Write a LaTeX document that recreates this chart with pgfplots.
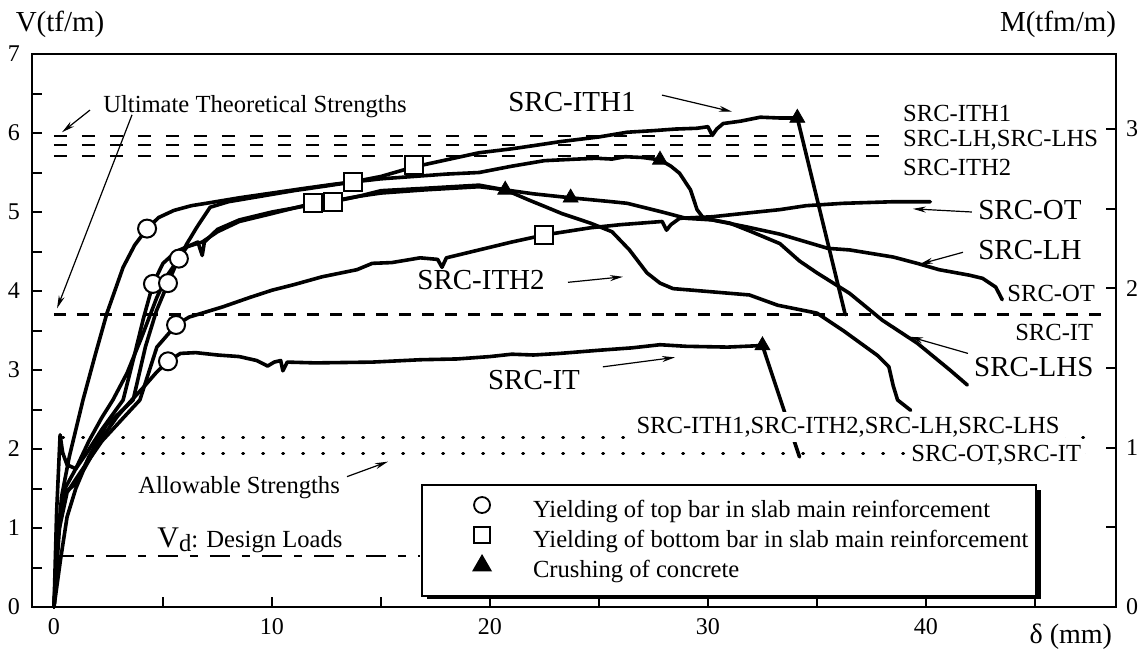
\documentclass[border=0pt]{standalone}
\usepackage{fontspec}
\setmainfont{Liberation Serif}
\usepackage{pgfplots}
\pgfplotsset{compat=1.18}
\usetikzlibrary{arrows.meta}
\newcommand{\fs}{\fontsize{12.3}{14}\selectfont}
\newcommand{\fl}{\fontsize{14.5}{16}\selectfont}
\newcommand{\ftick}{\fontsize{12}{14}\selectfont}
\tikzset{curve/.style={black, line width=1.8pt, line join=round, line cap=round, mark=none},
  arr/.style={black, line width=0.6pt, -{Stealth[length=6.5pt,width=3pt]}}}
\begin{document}
\begin{tikzpicture}
\useasboundingbox (-16pt,-23pt) rectangle (555.5pt,303.5pt);
\begin{axis}[
  at={(0pt,0pt)}, anchor=south west,
  scale only axis, width=542pt, height=276.5pt,
  xmin=-1.009, xmax=48.72, ymin=0, ymax=7,
  clip=false,
  axis line style={line width=1.2pt},
  xtick={0,10,20,30,40}, minor xtick={5,15,25,35,45},
  ytick={0,1,...,7}, minor ytick={0.5,1.5,...,6.5},
  xtick pos=left, ytick pos=left, tick align=inside,
  major tick length=5pt, minor tick length=5pt,
  tick style={black, line width=1pt},
  tick label style={font=\ftick},
  /pgf/number format/assume math mode=true,
  xticklabel style={yshift=-2pt},
  yticklabel style={xshift=-2.5pt},
  legend cell align=left,
  legend style={at={(0.3589,0.2224)}, anchor=north west, draw=black, line width=1pt,
    fill=white, inner xsep=4pt, inner ysep=5pt, font=\fs, row sep=0pt, column sep=2pt,
    nodes={inner sep=0pt, text height=10pt, text depth=4pt}},
]
% reference strength lines
\addplot[forget plot, black, line width=1pt, dash pattern=on 6.5pt off 7.5pt] coordinates {(0,5.96) (38.3,5.96)};
\addplot[forget plot, black, line width=1pt, dash pattern=on 6.5pt off 7.5pt] coordinates {(0,5.85) (38.3,5.85)};
\addplot[forget plot, black, line width=1pt, dash pattern=on 6.5pt off 7.5pt] coordinates {(0,5.71) (38.3,5.71)};
\addplot[forget plot, black, line width=1.7pt, dash pattern=on 6pt off 5.5pt] coordinates {(0,3.70) (48.35,3.70)};
\addplot[forget plot, black, line width=1.5pt, line cap=round, dash pattern=on 0.4pt off 9.6pt] coordinates {(0.4,2.14) (48.1,2.14)};
\addplot[forget plot, black, line width=1.5pt, line cap=round, dash pattern=on 0.4pt off 9.6pt] coordinates {(0.4,1.94) (48.1,1.94)};
\addplot[forget plot, black, line width=0.9pt, dash pattern=on 10pt off 6pt on 4pt off 6pt] coordinates {(0,0.65) (16.8,0.65)};

% SRC-ITH1
\addplot[forget plot, curve] coordinates {(0,0) (0.15,0.8) (0.35,1.4) (0.7,1.9) (1.33,2.62) (1.9,3.2) (2.43,3.72) (3.17,4.3) (3.7,4.58) (4.27,4.79) (4.8,4.93) (5.5,5.02) (6.3,5.08) (7.2,5.12) (8.5,5.18) (10,5.24) (11.5,5.3) (12.8,5.35) (13.7,5.38) (15,5.45) (16.5,5.57) (18,5.66) (19.5,5.75) (21,5.8) (22,5.84) (23.2,5.89) (24.1,5.92) (25,5.95) (26.3,6.01) (27.5,6.03) (28.5,6.05) (29.5,6.06) (30.0,6.08) (30.2,5.97) (30.4,6.05) (30.7,6.12) (31.5,6.15) (32.4,6.2) (33.3,6.19) (34.1,6.19) (36.3,3.70)};
% SRC-LHS
\addplot[forget plot, curve] coordinates {(0,0) (0.2,0.9) (0.5,1.5) (1.0,1.75) (1.6,2.1) (2.2,2.4) (2.7,2.62) (3.35,2.96) (4.0,3.4) (4.72,3.92) (5.2,4.2) (5.73,4.41) (6.1,4.6) (6.56,4.81) (7.16,5.06) (8,5.13) (9.5,5.2) (11,5.27) (12.5,5.33) (13.7,5.38) (15,5.42) (16.5,5.45) (18,5.48) (19.5,5.5) (21,5.58) (22.5,5.65) (24,5.67) (24.9,5.68) (25.6,5.67) (26.2,5.7) (27,5.69) (27.8,5.66) (28.3,5.58) (28.7,5.49) (29.2,5.28) (29.5,5.03) (29.8,4.92) (31.0,4.86) (32,4.75) (33.3,4.6) (34.2,4.38) (35,4.23) (36.5,3.97) (38,3.63) (39.6,3.34) (41.1,3.0) (41.9,2.81)};
% SRC-ITH2
\addplot[forget plot, curve] coordinates {(0,0) (0.12,1.2) (0.28,2.18) (0.4,1.95) (0.6,1.8) (1.0,1.75) (1.5,1.95) (2.2,2.25) (3.17,2.62) (3.7,3.2) (4.1,3.65) (4.54,4.09) (5.0,4.35) (5.6,4.5) (6.1,4.56) (6.6,4.62) (6.8,4.45) (6.9,4.62) (7.5,4.78) (8.5,4.9) (10,5.0) (11.6,5.08) (12.8,5.13) (14,5.2) (15,5.27) (17,5.3) (19.5,5.34) (20.7,5.28) (21.8,5.15) (22.6,5.06) (23.3,4.98) (24.6,4.86) (25.6,4.75) (26.4,4.52) (27.2,4.23) (27.8,4.1) (28.4,4.03) (29.3,4.01) (31.9,3.95) (33.2,3.82) (35,3.72) (36.2,3.5) (37.2,3.3) (37.8,3.18) (38.3,3.04) (38.5,2.8) (38.7,2.62) (39.3,2.49)};
% SRC-LH
\addplot[forget plot, curve] coordinates {(0,0) (0.2,1.0) (0.5,1.45) (1.05,1.57) (1.6,1.9) (2.4,2.3) (3.63,2.62) (4.2,3.3) (4.7,3.75) (5.23,4.10) (5.7,4.4) (6.1,4.56) (6.8,4.62) (7.5,4.75) (8.5,4.88) (10,4.98) (11.88,5.11) (13,5.15) (14,5.2) (15,5.24) (17,5.28) (19.5,5.32) (20.7,5.28) (22,5.23) (23.7,5.18) (25.6,5.13) (26.3,5.11) (27.9,5.0) (29,4.92) (30.2,4.9) (31.8,4.81) (33.3,4.72) (35.5,4.54) (36.5,4.52) (38.5,4.43) (39.6,4.35) (40.6,4.27) (42.0,4.2) (42.6,4.16) (43.2,4.05) (43.5,3.89)};
% SRC-OT
\addplot[forget plot, curve] coordinates {(0,0) (0.25,1.0) (0.6,1.45) (1.2,1.7) (2.2,2.1) (3.2,2.4) (3.94,2.62) (4.72,3.29) (5.6,3.57) (6.2,3.67) (7.75,3.8) (9,3.92) (10,4.01) (11,4.08) (12.3,4.18) (13.9,4.27) (14.6,4.35) (15.5,4.36) (16.8,4.42) (17.6,4.4) (17.8,4.3) (18,4.42) (19.5,4.52) (21,4.62) (22.5,4.71) (24.6,4.8) (26,4.84) (27.9,4.88) (28.1,4.77) (28.3,4.84) (28.7,4.92) (30.2,4.94) (31.9,4.99) (33.3,5.03) (34.5,5.08) (36.2,5.11) (38.5,5.13) (40.2,5.13)};
% SRC-IT
\addplot[forget plot, curve] coordinates {(0,0) (0.3,0.6) (0.6,1.14) (1.0,1.5) (1.35,1.73) (2.1,2.1) (2.9,2.41) (3.5,2.6) (4.1,2.78) (4.7,2.97) (5.23,3.11) (5.8,3.21) (6.5,3.22) (7.5,3.19) (8.5,3.17) (9.3,3.12) (9.8,3.05) (10.1,3.1) (10.4,3.12) (10.5,2.99) (10.7,3.1) (12,3.09) (14.6,3.1) (16.8,3.13) (18.5,3.14) (20,3.17) (21,3.2) (22,3.19) (23.2,3.21) (25,3.25) (26.5,3.28) (27.8,3.32) (29,3.3) (30.9,3.29) (32.5,3.31) (34.2,1.9)};

% event markers
\addplot[forget plot, only marks, mark=*, mark size=4.5pt, mark options={fill=white, draw=black, line width=1pt}] coordinates {(4.27,4.79) (5.73,4.41) (4.54,4.09) (5.23,4.10) (5.6,3.57) (5.23,3.11)};
\addplot[forget plot, only marks, mark=square*, mark size=4.5pt, mark options={fill=white, draw=black, line width=1pt}] coordinates {(13.7,5.38) (11.88,5.11) (12.8,5.13) (16.5,5.59) (22.5,4.71)};
\addplot[forget plot, only marks, mark=triangle*, mark size=4.3pt, mark options={fill=black, draw=black}] coordinates {(34.1,6.19) (27.8,5.66) (20.7,5.28) (23.7,5.18) (32.5,3.31)};

% annotations
\node[font=\fs] at (axis cs:9.22,6.33) {Ultimate Theoretical Strengths};
\draw[arr] (axis cs:1.65,6.29) -- (axis cs:0.37,6.01);
\draw[arr] (axis cs:3.58,6.23) -- (axis cs:0.14,3.78);
\node[font=\fl] at (axis cs:23.76,6.39) {SRC-ITH1};
\draw[arr] (axis cs:27.89,6.48) -- (axis cs:31.10,6.27);
\node[font=\fl] at (axis cs:19.59,4.14) {SRC-ITH2};
\draw[arr] (axis cs:23.58,4.11) -- (axis cs:26.1,4.18);
\node[font=\fl] at (axis cs:22.02,2.87) {SRC-IT};
\draw[arr] (axis cs:25.18,3.04) -- (axis cs:28.49,3.16);
\node[font=\fl] at (axis cs:44.77,5.03) {SRC-OT};
\draw[arr] (axis cs:42.11,5.0) -- (axis cs:39.40,5.04);
\node[font=\fl] at (axis cs:44.77,4.52) {SRC-LH};
\draw[arr] (axis cs:41.7,4.49) -- (axis cs:39.72,4.34);
\node[font=\fl] at (axis cs:44.95,3.04) {SRC-LHS};
\draw[arr] (axis cs:41.93,3.21) -- (axis cs:39.27,3.42);
\node[font=\fs, anchor=west, inner sep=0pt] at (axis cs:38.94,6.25) {SRC-ITH1};
\node[font=\fs, anchor=west, inner sep=0pt] at (axis cs:38.94,5.91) {SRC-LH,SRC-LHS};
\node[font=\fs, anchor=west, inner sep=0pt] at (axis cs:38.94,5.57) {SRC-ITH2};
\node[font=\fs, anchor=west, inner sep=0pt] at (axis cs:43.72,3.97) {SRC-OT};
\node[font=\fs, anchor=west, inner sep=0pt] at (axis cs:44.08,3.48) {SRC-IT};
\node[font=\fs, anchor=base east, fill=white, inner sep=2.5pt] at (axis cs:46.38,2.20) {SRC-ITH1,SRC-ITH2,SRC-LH,SRC-LHS};
\node[font=\fs, anchor=west, fill=white, inner sep=2pt] at (axis cs:39.13,1.92) {SRC-OT,SRC-IT};
\node[font=\fs] at (axis cs:8.49,1.51) {Allowable Strengths};
\draw[arr] (axis cs:13.44,1.65) -- (axis cs:15.32,1.84);
\node[font=\fs] at (axis cs:8.99,0.85) {{\fontsize{15}{16}\selectfont V}\raisebox{-2pt}{d}: Design Loads};
\node[font=\fl] at (axis cs:0.28,7.37) {V(tf/m)};
\node[font=\fl] at (axis cs:46.06,7.37) {M(tfm/m)};
\node[font=\fontsize{14}{16}\selectfont] at (axis cs:46.65,-0.37) {δ (mm)};
% legend shadow
\fill[black] (axis cs:17.11,0.10) rectangle (axis cs:45.28,1.48);

% legend
\addlegendimage{legend image code/.code={\path (0pt,-1.5pt) (48.5pt,7.5pt); \draw[black,line width=0.9pt,fill=white] (25.5pt,3pt) circle (4pt);}}
\addlegendentry{Yielding of top bar in slab main reinforcement}
\addlegendimage{legend image code/.code={\path (0pt,-1.5pt) (48.5pt,7.5pt); \draw[black,line width=0.9pt,fill=white] (21.5pt,-1pt) rectangle (29.5pt,7pt);}}
\addlegendentry{Yielding of bottom bar in slab main reinforcement}
\addlegendimage{legend image code/.code={\path (0pt,-1.5pt) (48.5pt,7.5pt); \fill[black] (25.5pt,3pt) +(90:4.8pt) -- +(210:4.8pt) -- +(330:4.8pt) -- cycle;}}
\addlegendentry{Crushing of concrete}
\end{axis}
\begin{axis}[
  at={(0pt,0pt)}, anchor=south west,
  scale only axis, width=542pt, height=276.5pt,
  xmin=0, xmax=1, ymin=0, ymax=3.4705,
  axis x line=none, axis y line*=right,
  axis line style={line width=1.2pt, -},
  ytick={0,1,2,3}, minor ytick={0.5,1.5,2.5},
  tick align=inside,
  major tick length=5pt, minor tick length=5pt,
  tick style={black, line width=1pt},
  yticklabel style={font=\ftick, xshift=1.5pt},
  /pgf/number format/assume math mode=true,
]
\end{axis}
\end{tikzpicture}
\end{document}
